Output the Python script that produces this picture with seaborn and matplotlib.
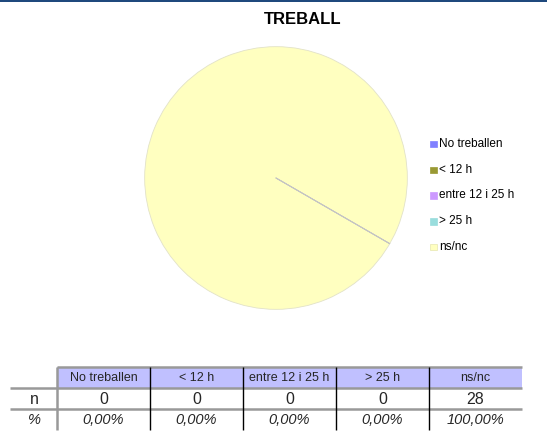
import matplotlib
matplotlib.use("Agg")
import numpy as np
import matplotlib.pyplot as plt
from matplotlib.patches import Rectangle
import seaborn as sns

# ---- data ----
categories = ["No treballen", "< 12 h", "entre 12 i 25 h", "> 25 h", "ns/nc"]
counts = [0, 0, 0, 0, 28]
percent_labels = ["0,00%", "0,00%", "0,00%", "0,00%", "100,00%"]
colors = ["#8080FF", "#999933", "#CC99FF", "#99DDDD", "#FFFFC0"]
title = "TREBALL"

sns.set_theme(style="white")
plt.rcParams["font.family"] = ["Liberation Sans", "DejaVu Sans"]

W, H = 547, 448
fig = plt.figure(figsize=(W / 100, H / 100), dpi=100)
fig.patch.set_facecolor("white")

# ---- pie ----
cx, cy, r = 276, 178, 132
pax = fig.add_axes([(cx - r) / W, (H - cy - r) / H, 2 * r / W, 2 * r / H])
wedges, _ = pax.pie(counts, colors=colors, startangle=-30, counterclock=True, radius=1,
                    wedgeprops=dict(edgecolor="#E2E2C8", linewidth=0.6))
# boundary of the (empty) slices
for w in wedges:
    if w.theta2 - w.theta1 < 1e-9:
        a = np.deg2rad(w.theta1)
        pax.plot([0, np.cos(a)], [0, np.sin(a)], color="#C4C4C4", lw=0.6, zorder=5)
pax.set_xlim(-1.005, 1.005)
pax.set_ylim(-1.005, 1.005)
pax.set_aspect("equal")
pax.axis("off")

# ---- overlay (pixel coordinates) ----
ov = fig.add_axes([0, 0, 1, 1], zorder=5)
ov.set_xlim(0, W)
ov.set_ylim(H, 0)
ov.axis("off")
ov.patch.set_alpha(0)

# top bar
ov.add_patch(Rectangle((0, 0), W, 2.4, color="#1F497D", lw=0))

# title
ov.text(303, 19, title, ha="center", va="center", fontsize=12, fontweight="bold", color="black")

# legend
ly0, ldy = 144, 25.7
for i, (cat, col) in enumerate(zip(categories, colors)):
    y = ly0 + i * ldy
    ov.add_patch(Rectangle((430, y - 3), 6.5, 6.5, facecolor=col,
                           edgecolor="#E6E6B0" if i == 4 else col, lw=0.5))
    ov.text(439, y, cat, ha="left", va="center", fontsize=8.5, color="black")

# table
x0, x1 = 57, 522
colw = (x1 - x0) / 5.0
ytop, rh = 367.5, 21.0
gray = "#999999"
for i in range(5):
    ov.add_patch(Rectangle((x0 + i * colw, ytop), colw, rh, facecolor="#C0C0FF", lw=0))
ov.plot([x0, x1], [ytop, ytop], color=gray, lw=1.8, solid_capstyle="butt")
for k in (1, 2):
    ov.plot([10, x1], [ytop + k * rh, ytop + k * rh], color=gray, lw=1.8, solid_capstyle="butt")
ov.plot([x0, x0], [ytop, ytop + 3 * rh], color=gray, lw=1.8, solid_capstyle="butt")
for i in range(1, 5):
    xx = x0 + i * colw
    ov.plot([xx, xx], [ytop, ytop + 3 * rh], color="black", lw=1.0, solid_capstyle="butt")

for i in range(5):
    xc = x0 + (i + 0.5) * colw
    ov.text(xc, ytop + 0.5 * rh, categories[i], ha="center", va="center", fontsize=9)
    ov.text(xc, ytop + 1.5 * rh, str(counts[i]), ha="center", va="center", fontsize=11.5)
    ov.text(xc, ytop + 2.5 * rh, percent_labels[i], ha="center", va="center",
            fontsize=10.5, style="italic")
ov.text(34, ytop + 1.5 * rh, "n", ha="center", va="center", fontsize=11.5)
ov.text(34, ytop + 2.5 * rh, "%", ha="center", va="center", fontsize=10.5, style="italic")

fig.savefig("out.png", dpi=100)
